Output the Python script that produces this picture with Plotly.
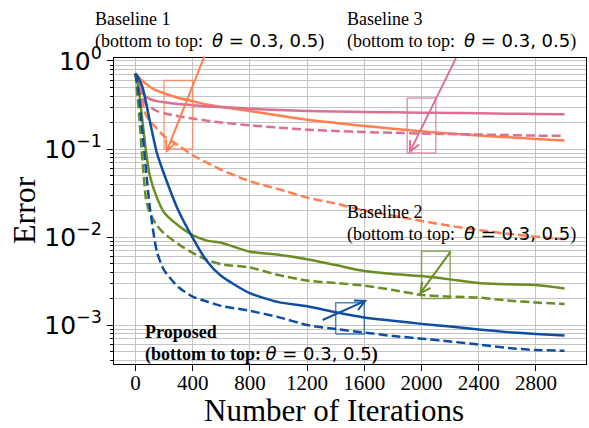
import math
import plotly.graph_objects as go

# ---------------- data ----------------
iters = [0, 25, 50, 75, 100, 150, 200, 300, 400, 500, 600, 800, 1000, 1200,
         1400, 1600, 1800, 2000, 2200, 2400, 2600, 2800, 3000]

proposed_05 = [0.72, 0.62, 0.50, 0.33, 0.21, 0.09, 0.052, 0.020, 0.0098, 0.0053, 0.0036,
               0.0023, 0.00182, 0.00163, 0.0014, 0.00122, 0.00112, 0.00103, 0.00096,
               0.00089, 0.00083, 0.00079, 0.00076]
proposed_03 = [0.72, 0.40, 0.15, 0.055, 0.022, 0.0068, 0.0042, 0.0027, 0.0021, 0.00185,
               0.00165, 0.00145, 0.00123, 0.0010, 0.0009, 0.00082, 0.00075, 0.0007,
               0.00065, 0.0006, 0.00055, 0.00052, 0.00051]
baseline2_05 = [0.72, 0.45, 0.20, 0.09, 0.05, 0.028, 0.019, 0.0135, 0.0105, 0.0091, 0.0086,
                0.0068, 0.0063, 0.0056, 0.0048, 0.0041, 0.0038, 0.0036, 0.0033, 0.0030,
                0.0029, 0.00285, 0.0026]
baseline2_03 = [0.72, 0.25, 0.07, 0.026, 0.019, 0.0135, 0.011, 0.0083, 0.0066, 0.0055,
                0.0049, 0.0045, 0.0037, 0.0032, 0.0030, 0.0028, 0.0025, 0.0022, 0.0021,
                0.00205, 0.0019, 0.0018, 0.00173]
baseline1_05 = [0.72, 0.65, 0.59, 0.55, 0.51, 0.46, 0.43, 0.38, 0.35, 0.32, 0.30, 0.27,
                0.24, 0.215, 0.198, 0.183, 0.17, 0.159, 0.15, 0.142, 0.136, 0.13, 0.125]
baseline1_03 = [0.72, 0.50, 0.33, 0.24, 0.21, 0.17, 0.14, 0.11, 0.085, 0.07, 0.058, 0.043,
                0.035, 0.028, 0.024, 0.020, 0.0175, 0.0152, 0.0134, 0.012, 0.0109,
                0.0101, 0.0094]
baseline3_05 = [0.72, 0.55, 0.43, 0.39, 0.37, 0.35, 0.34, 0.325, 0.315, 0.305, 0.30, 0.287,
                0.277, 0.27, 0.266, 0.263, 0.261, 0.259, 0.257, 0.255, 0.252, 0.25, 0.248]
baseline3_03 = [0.72, 0.50, 0.38, 0.32, 0.30, 0.27, 0.255, 0.235, 0.222, 0.21, 0.20, 0.186,
                0.175, 0.166, 0.16, 0.156, 0.153, 0.15, 0.148, 0.146, 0.144, 0.142, 0.141]

x_ticks = [0, 400, 800, 1200, 1600, 2000, 2400, 2800]
y_ticks = [1, 0.1, 0.01, 0.001]
y_ticktext = ["10<sup>0</sup>", "10<sup>−1</sup>", "10<sup>−2</sup>", "10<sup>−3</sup>"]

# zoom boxes: [x0, x1, y0, y1]
box_b1 = [200, 400, 0.1, 0.6]
box_b3 = [1900, 2100, 0.09, 0.38]
box_b2 = [2000, 2200, 0.002, 0.0069]
box_pr = [1400, 1600, 0.00079, 0.00179]
# arrows: (tail x, tail y, head x, head y)
arrow_b1 = (486, 1.17, 213, 0.09)
arrow_b3 = (2246, 1.12, 1913, 0.089)
arrow_b2 = (2211, 0.0071, 1983, 0.0022)
arrow_pr = (1298, 0.00112, 1621, 0.00192)

C_BLUE = "#0E4EA2"
C_GREEN = "#6B8E23"
C_ORANGE = "#FF7F50"
C_PINK = "#DB7093"

SERIF = "Liberation Serif"
SANS = "DejaVu Sans"

fig = go.Figure()

series = [
    (baseline1_05, C_ORANGE, "solid"), (baseline1_03, C_ORANGE, "9px,4px"),
    (baseline3_05, C_PINK, "solid"), (baseline3_03, C_PINK, "9px,4px"),
    (baseline2_05, C_GREEN, "solid"), (baseline2_03, C_GREEN, "9px,4px"),
    (proposed_05, C_BLUE, "solid"), (proposed_03, C_BLUE, "9px,4px"),
]
for vals, col, dash in series:
    fig.add_trace(go.Scatter(x=iters, y=vals, mode="lines",
                             line=dict(color=col, width=2.5, dash=dash, shape="spline", smoothing=0.6),
                             showlegend=False, hoverinfo="skip"))

for box, col in [(box_b1, C_ORANGE), (box_b3, C_PINK), (box_b2, C_GREEN), (box_pr, C_BLUE)]:
    x0, x1, y0, y1 = box
    fig.add_trace(go.Scatter(x=[x0, x1, x1, x0, x0], y=[y0, y0, y1, y1, y0], mode="lines",
                             line=dict(color=col, width=1.5), opacity=0.7,
                             showlegend=False, hoverinfo="skip"))

annotations = []
for arr, col in [(arrow_b1, C_ORANGE), (arrow_b3, C_PINK), (arrow_b2, C_GREEN), (arrow_pr, C_BLUE)]:
    tx, ty, hx, hy = arr
    annotations.append(dict(x=hx, y=math.log10(hy), ax=tx, ay=math.log10(ty),
                            xref="x", yref="y", axref="x", ayref="y", text="",
                            showarrow=True, arrowhead=5, arrowsize=1.0, arrowwidth=2,
                            arrowcolor=col, standoff=0, startstandoff=0))

# plot-area pixel helpers for text placement
L, R, T, B = 114, 586, 58, 364
def px(xp):
    return (xp - L) / (R - L)
def py(yp):
    return (B - yp) / (B - T)

math_part = f'<span style="font-family:{SANS}"><i>θ</i> = 0.3, 0.5</span>'
line2 = "(bottom to top:  " + math_part + ")"
line2_bold = "<b>(bottom to top: </b>" + math_part + "<b>)</b>"

texts = [
    ("Baseline 1", 93, 19), (line2, 93, 41),
    ("Baseline 3", 345, 19), (line2, 345, 41),
    ("Baseline 2", 345, 212), (line2, 345, 234),
    ("<b>Proposed</b>", 143, 332), (line2_bold, 143, 354),
]
for t, xx, yy in texts:
    annotations.append(dict(text=t, x=px(xx), y=py(yy), xref="paper", yref="paper",
                            xanchor="left", yanchor="middle", showarrow=False,
                            font=dict(family=SERIF, size=18, color="black")))

# axis titles
annotations.append(dict(text="Number of Iterations", x=px(334), y=py(411), xref="paper", yref="paper",
                        xanchor="center", yanchor="middle", showarrow=False,
                        font=dict(family=SERIF, size=31, color="black")))
annotations.append(dict(text="Error", x=px(24), y=py(210), xref="paper", yref="paper",
                        xanchor="center", yanchor="middle", showarrow=False, textangle=-90,
                        font=dict(family=SERIF, size=32, color="black")))

fig.update_layout(
    width=589, height=428,
    margin=dict(l=L, r=589 - R, t=T, b=428 - B, autoexpand=False),
    paper_bgcolor="white", plot_bgcolor="white",
    annotations=annotations,
    xaxis=dict(range=[-150, 3150], tickmode="array", tickvals=x_ticks, automargin=False,
               ticks="outside", ticklen=6, tickwidth=1.2, tickcolor="black",
               ticklabelstandoff=-6,
               showline=True, linecolor="black", linewidth=1.2, mirror=True,
               showgrid=True, gridcolor="#c4c4c4", gridwidth=1, zeroline=False,
               tickfont=dict(family=SERIF, size=21, color="black")),
    yaxis=dict(type="log", range=[-3.443, 0.034], tickmode="array", tickvals=y_ticks,
               ticktext=y_ticktext, automargin=False,
               ticks="outside", ticklen=6, tickwidth=1.2, tickcolor="black",
               showline=True, linecolor="black", linewidth=1.2, mirror=True,
               showgrid=True, gridcolor="#c4c4c4", gridwidth=1, zeroline=False,
               minor=dict(dtick="D1", ticks="outside", ticklen=3, tickcolor="black",
                          showgrid=True, gridcolor="#c4c4c4", gridwidth=1),
               tickfont=dict(family=SANS, size=25, color="black")),
)

fig.write_html("out.html", config={"displayModeBar": False},
               post_script="document.body.style.margin='0';")
